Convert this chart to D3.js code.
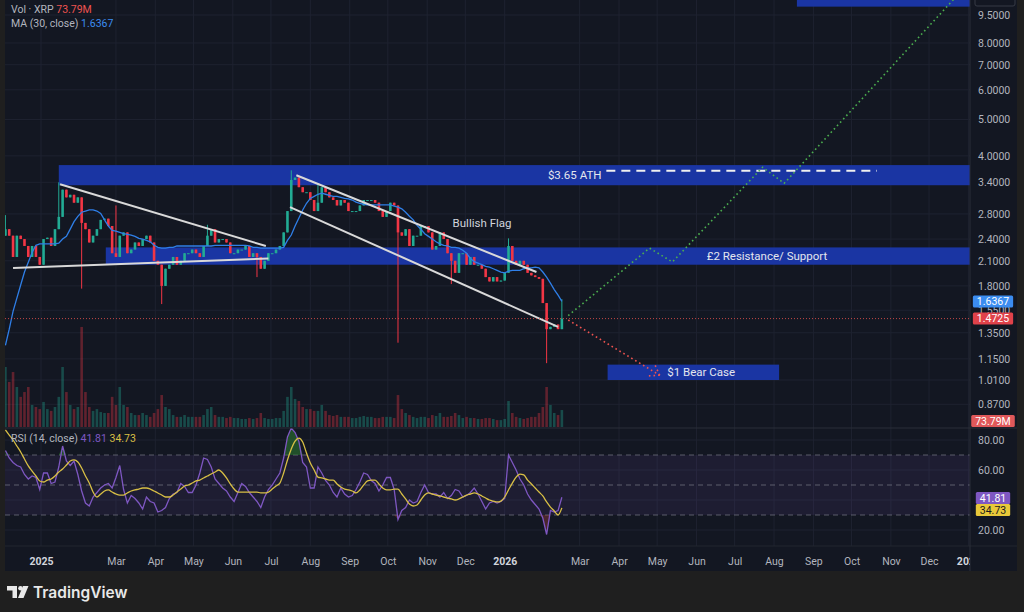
<!DOCTYPE html>
<html>
<head>
<meta charset="utf-8">
<script src="https://cdn.jsdelivr.net/npm/d3@7"></script>
<style>
  html, body { margin: 0; padding: 0; background: #1f1f1f; }
  svg { display: block; font-family: Roboto, Inter, sans-serif; }
</style>
</head>
<body>
<div id="chart"></div>
<script>
// XRP price candles, one bar per 3 days from 2024-12-04.
const candleStart = "2024-12-04";
const candleStepDays = 3;
const firstOpen = 2.45;
const closes = [
  2.55, 2.45, 2.15, 2.45, 2.40, 2.30, 2.15, 2.30, 2.15, 2.05,
  2.40, 2.42, 2.30, 2.55, 2.75, 3.25, 3.10, 3.15, 3.00, 3.10,
  2.65, 2.55, 2.35, 2.45, 2.55, 2.70, 2.72, 2.60, 2.20, 2.15,
  2.45, 2.50, 2.20, 2.25, 2.35, 2.30, 2.40, 2.45, 2.35, 2.10,
  2.05, 1.80, 2.00, 2.05, 2.15, 2.05, 2.10, 2.20, 2.20, 2.25,
  2.20, 2.15, 2.30, 2.45, 2.55, 2.35, 2.40, 2.40, 2.35, 2.20,
  2.20, 2.25, 2.25, 2.30, 2.15, 2.20, 2.15, 2.00, 2.10, 2.20,
  2.20, 2.25, 2.30, 2.50, 2.85, 3.45, 3.50, 3.30, 3.20, 3.20,
  3.05, 2.85, 3.00, 3.30, 3.20, 3.10, 3.05, 2.95, 3.05, 3.00,
  2.85, 2.85, 2.85, 2.95, 3.05, 3.05, 3.05, 3.00, 2.85, 2.75,
  2.85, 3.00, 2.95, 2.50, 2.45, 2.55, 2.30, 2.45, 2.45, 2.60,
  2.60, 2.50, 2.25, 2.30, 2.50, 2.40, 2.20, 2.10, 1.95, 2.20,
  2.20, 2.05, 2.15, 2.05, 2.05, 2.00, 1.90, 1.85, 1.90, 1.85,
  1.86, 1.95, 2.30, 2.10, 2.05, 2.10, 2.05, 1.95, 1.92, 1.90,
  1.88, 1.62, 1.38, 1.40, 1.42, 1.38, 1.4725
];
// Volume in millions, same bars.
const volumes = [
  261, 196, 239, 174, 131, 152, 174, 96, 87, 78,
  109, 78, 70, 87, 131, 261, 152, 96, 78, 87,
  435, 152, 87, 70, 78, 65, 61, 61, 131, 96,
  174, 96, 87, 61, 52, 52, 61, 52, 44, 61,
  78, 139, 87, 78, 52, 44, 44, 52, 44, 44,
  44, 44, 52, 78, 87, 52, 44, 44, 39, 44,
  39, 39, 35, 35, 39, 35, 39, 61, 39, 35,
  35, 39, 39, 70, 131, 174, 122, 113, 87, 78,
  78, 70, 70, 96, 70, 52, 48, 52, 44, 44,
  44, 39, 39, 44, 48, 44, 44, 39, 39, 44,
  44, 44, 39, 139, 78, 61, 52, 44, 39, 44,
  44, 39, 52, 48, 61, 44, 44, 48, 61, 52,
  39, 44, 39, 39, 35, 35, 39, 39, 35, 30,
  30, 35, 113, 61, 44, 39, 35, 39, 44, 44,
  61, 87, 174, 96, 61, 52, 73.79
];
// MA (30, close)
const ma30 = [
  1.25, 1.38, 1.54, 1.67, 1.81, 1.96, 2.08, 2.21, 2.31, 2.33,
  2.33, 2.33, 2.33, 2.33, 2.34, 2.40, 2.44, 2.55, 2.67, 2.76,
  2.83, 2.85, 2.87, 2.87, 2.85, 2.81, 2.70, 2.60, 2.53, 2.52,
  2.50, 2.48, 2.47, 2.46, 2.44, 2.41, 2.40, 2.38, 2.36, 2.31,
  2.28, 2.27, 2.27, 2.28, 2.28, 2.30, 2.30, 2.30, 2.30, 2.30,
  2.30, 2.30, 2.30, 2.30, 2.30, 2.31, 2.31, 2.31, 2.31, 2.31,
  2.31, 2.31, 2.31, 2.31, 2.30, 2.28, 2.28, 2.27, 2.27, 2.27,
  2.27, 2.27, 2.27, 2.28, 2.38, 2.46, 2.60, 2.73, 2.87, 2.99,
  3.08, 3.12, 3.16, 3.18, 3.16, 3.14, 3.12, 3.12, 3.10, 3.08,
  3.07, 3.05, 3.01, 2.99, 2.97, 2.96, 2.96, 2.96, 2.96, 2.96,
  2.96, 2.96, 2.94, 2.92, 2.89, 2.83, 2.76, 2.70, 2.61, 2.55,
  2.48, 2.44, 2.40, 2.36, 2.33, 2.31, 2.30, 2.28, 2.28, 2.27,
  2.24, 2.20, 2.13, 2.09, 2.07, 2.05, 2.03, 2.02, 2.00, 1.98,
  1.96, 1.95, 1.97, 1.98, 1.98, 1.98, 2.00, 2.01, 2.01, 2.02,
  2.01, 1.96, 1.90, 1.83, 1.76, 1.70, 1.6367
];
// RSI (14, close) and its moving average
const rsi = [
  73, 68, 65, 63, 62, 57, 54, 56, 55, 47,
  58, 58, 51, 52, 62, 76, 66, 63, 66, 57,
  46, 38, 36, 42, 45, 48, 50, 51, 48, 55,
  63, 47, 38, 43, 41, 38, 34, 42, 39, 38,
  32, 33, 35, 41, 44, 45, 51, 49, 45, 45,
  50, 58, 68, 67, 62, 54, 51, 48, 46, 42,
  39, 45, 51, 49, 45, 42, 39, 35, 42, 47,
  50, 54, 58, 68, 82, 88, 85, 79, 65, 62,
  48, 48, 62, 58, 53, 50, 45, 42, 48, 44,
  42, 43, 47, 52, 58, 57, 53, 51, 46, 50,
  55, 55, 47, 27, 33, 35, 40, 38, 39, 45,
  50, 45, 44, 44, 42, 45, 41, 43, 47, 46,
  42, 43, 45, 48, 44, 39, 34, 38, 39, 38,
  39, 41, 70, 65, 60, 54, 50, 44, 40, 37,
  34, 28, 17, 33, 32, 33, 41.81
];
const rsiMa = [
  86.7, 83.3, 80, 76, 72, 67.3, 62.7, 59.3, 56, 52.7,
  52, 53.3, 54, 56, 58.7, 60.7, 63.3, 66, 66.7, 65.3,
  61.3, 56, 51.3, 45.3, 42, 44, 46, 46.7, 45.3, 44,
  43.3, 43.3, 44.7, 46, 46.7, 47.3, 48, 48, 47.3, 46,
  44.7, 43.3, 42, 42, 43.3, 45.3, 47.3, 49.3, 50, 51.3,
  52.7, 53.3, 54.7, 56, 57.3, 58.7, 60, 58, 54.7, 50.7,
  47.3, 45.3, 45.3, 45.3, 45.3, 45.3, 45.3, 44.7, 44.7, 45.3,
  47.3, 49.3, 51.3, 58, 66.7, 74, 79.3, 81.3, 78.7, 71.3,
  64.7, 60, 55.3, 54.7, 54, 53.3, 53.3, 50.7, 48.7, 47.3,
  46.7, 46, 44.7, 46.7, 50, 52.7, 53.3, 53.3, 50.7, 48,
  46.7, 46.7, 47.3, 47.3, 44, 40.7, 37.3, 36, 36.7, 40,
  43.3, 44.7, 44, 43.3, 42.7, 42, 41.3, 40.7, 40, 40.7,
  42, 43.3, 44, 44.7, 44, 42.7, 41.3, 40, 39.3, 38.7,
  39.3, 42, 46.7, 51.3, 55.3, 57.3, 56.7, 53.3, 50.7, 48,
  45.3, 42.7, 38.7, 35.3, 32.7, 30, 34.73
];
// Long wicks that stand out on the chart
const wickDates = ["2024-12-04", "2025-01-16", "2025-02-03", "2025-03-02", "2025-04-07", "2025-05-12",
  "2025-06-22", "2025-07-18", "2025-08-08", "2025-10-10", "2025-11-21", "2026-01-06", "2026-02-05", "2026-02-15"];
const wickPrices = [2.78, 3.40, 1.77, 2.95, 1.61, 2.62, 1.90, 3.66, 3.35, 1.27, 1.82, 2.41, 1.12, 1.66];

// Axis ticks
const priceTicks = [9.5, 8, 7, 6, 5, 4, 3.4, 2.8, 2.4, 2.1, 1.8, 1.55, 1.35, 1.15, 1.01, 0.87];
const rsiTicks = [80, 60, 20];
const rsiGrid = [80, 60, 40, 20];
const rsiLevels = [70, 50, 30];
const timeTicks = ["2025-01-01", "2025-03-01", "2025-04-01", "2025-05-01", "2025-06-01", "2025-07-01",
  "2025-08-01", "2025-09-01", "2025-10-01", "2025-11-01", "2025-12-01", "2026-01-01", "2026-03-01",
  "2026-04-01", "2026-05-01", "2026-06-01", "2026-07-01", "2026-08-01", "2026-09-01", "2026-10-01",
  "2026-11-01", "2026-12-01", "2027-01-01"];

// Drawings: [date, price] pairs
const triangleTop = [["2025-01-16", 3.36], ["2025-06-27", 2.30]];
const triangleBottom = [["2024-12-10", 2.01], ["2025-06-29", 2.13]];
const flagTop = [["2025-07-21", 3.55], ["2026-01-26", 1.96]];
const flagBottom = [["2025-07-16", 2.92], ["2026-02-12", 1.40]];
const bullPath = [["2026-02-20", 1.50], ["2026-04-25", 2.27], ["2026-05-13", 2.085],
  ["2026-07-23", 3.73], ["2026-08-09", 3.38], ["2026-12-27", 11.06]];
const bearPath = [["2026-02-20", 1.46], ["2026-05-03", 1.04]];
const athLine = [["2026-03-22", 3.65], ["2026-10-21", 3.65]];
// Zones: label, start date, end date, low, high, label date
const zoneLabels = ["$3.65 ATH", "£2 Resistance/ Support", "$1 Bear Case", "$10 Bull Target"];
const zoneStart = ["2025-01-15", "2025-02-21", "2026-03-23", "2026-08-19"];
const zoneEnd = ["2027-03-01", "2027-03-01", "2026-08-05", "2027-03-01"];
const zoneLow = [3.34, 2.05, 1.01, 10.0];
const zoneHigh = [3.78, 2.28, 1.11, 12.6];
const zoneTextAt = ["2026-02-04", "2026-06-09", "2026-05-09", "2026-09-20"];
const flagLabel = ["Bullish Flag", "2025-11-21", 2.65];

/**
 * Layout.
 */
const width = 1024, height = 612;
const left = 5, axisX = 970, right = 1017;
const priceTop = 0, priceBottom = 428, rsiBottom = 546, chartBottom = 571;
const gridColor = "#1e2230";
const textColor = "#b2b5be";
const upColor = "#22ab94", downColor = "#f23645";

const parse = d3.utcParse("%Y-%m-%d");
const t0 = parse(candleStart);

const candles = closes.map((c, i) => {
  const open = i === 0 ? firstOpen : closes[i - 1];
  return {
    date: d3.utcDay.offset(t0, i * candleStepDays),
    open, close: c,
    high: Math.max(open, c), low: Math.min(open, c),
    vol: volumes[i], ma: ma30[i], rsi: rsi[i], rsiMa: rsiMa[i]
  };
});
wickDates.forEach((d, k) => {
  const i = Math.floor(d3.utcDay.count(t0, parse(d)) / candleStepDays);
  const c = candles[i];
  if (!c) return;
  c.high = Math.max(c.high, wickPrices[k]);
  c.low = Math.min(c.low, wickPrices[k]);
});

// Scales
const x = d3.scaleUtc()
  .domain([parse("2025-01-01"), parse("2026-01-01")])
  .range([41, 504.7]);
const y = d3.scaleLog().domain([1.01, 9.5]).range([380, 15]);
const yVol = d3.scaleLinear().domain([0, 400]).range([priceBottom - 1, 335]);
const yRsi = d3.scaleLinear().domain([20, 80]).range([530, 440]);
const slot = x(d3.utcDay.offset(t0, candleStepDays)) - x(t0);
const bodyW = slot * 0.68;

const svg = d3.select("#chart").append("svg")
  .attr("width", width).attr("height", height);

svg.append("rect").attr("width", width).attr("height", height).attr("fill", "#1f1f1f");
svg.append("rect")
  .attr("x", left).attr("y", priceTop)
  .attr("width", right - left).attr("height", chartBottom)
  .attr("fill", "#131722");

const defs = svg.append("defs");
defs.append("clipPath").attr("id", "clip-price").append("rect")
  .attr("x", left).attr("y", priceTop).attr("width", axisX - left).attr("height", priceBottom - priceTop);
defs.append("clipPath").attr("id", "clip-rsi").append("rect")
  .attr("x", left).attr("y", priceBottom).attr("width", axisX - left).attr("height", rsiBottom - priceBottom);
defs.append("clipPath").attr("id", "clip-time").append("rect")
  .attr("x", left).attr("y", rsiBottom).attr("width", axisX - left).attr("height", chartBottom - rsiBottom);

/**
 * Grid.
 */
const grid = svg.append("g");
grid.selectAll("line.v")
  .data(timeTicks.map(parse).filter((d) => x(d) < axisX))
  .join("line")
  .attr("x1", (d) => x(d)).attr("x2", (d) => x(d))
  .attr("y1", priceTop).attr("y2", rsiBottom)
  .attr("stroke", gridColor);
grid.selectAll("line.h")
  .data(priceTicks)
  .join("line")
  .attr("x1", left).attr("x2", axisX)
  .attr("y1", (d) => y(d)).attr("y2", (d) => y(d))
  .attr("stroke", gridColor);
grid.selectAll("line.r")
  .data(rsiGrid)
  .join("line")
  .attr("x1", left).attr("x2", axisX)
  .attr("y1", (d) => yRsi(d)).attr("y2", (d) => yRsi(d))
  .attr("stroke", gridColor);

/**
 * Price pane.
 */
const pane = svg.append("g").attr("clip-path", "url(#clip-price)");

// Volume
pane.append("g").selectAll("rect")
  .data(candles)
  .join("rect")
  .attr("x", (d) => x(d.date) - bodyW / 2)
  .attr("y", (d) => yVol(d.vol))
  .attr("width", bodyW)
  .attr("height", (d) => yVol(0) - yVol(d.vol))
  .attr("fill", (d) => (d.close >= d.open ? upColor : downColor))
  .attr("opacity", 0.35);

// Zones
const zones = zoneLabels.map((label, i) => ({
  label, from: parse(zoneStart[i]), to: parse(zoneEnd[i]),
  lo: zoneLow[i], hi: zoneHigh[i], at: parse(zoneTextAt[i])
}));
pane.append("g").selectAll("rect")
  .data(zones)
  .join("rect")
  .attr("x", (d) => x(d.from))
  .attr("y", (d) => y(d.hi))
  .attr("width", (d) => x(d.to) - x(d.from))
  .attr("height", (d) => y(d.lo) - y(d.hi))
  .attr("fill", "#1a35a3");

// Candles
const candleG = pane.append("g");
candleG.selectAll("line")
  .data(candles)
  .join("line")
  .attr("x1", (d) => x(d.date)).attr("x2", (d) => x(d.date))
  .attr("y1", (d) => y(d.high)).attr("y2", (d) => y(d.low))
  .attr("stroke", (d) => (d.close >= d.open ? upColor : downColor))
  .attr("stroke-width", 1);
candleG.selectAll("rect")
  .data(candles)
  .join("rect")
  .attr("x", (d) => x(d.date) - bodyW / 2)
  .attr("y", (d) => y(Math.max(d.open, d.close)))
  .attr("width", bodyW)
  .attr("height", (d) => Math.max(1, Math.abs(y(d.open) - y(d.close))))
  .attr("fill", (d) => (d.close >= d.open ? upColor : downColor));

// MA (30)
pane.append("path")
  .datum(candles)
  .attr("fill", "none")
  .attr("stroke", "#2f7fe8")
  .attr("stroke-width", 1.3)
  .attr("d", d3.line().x((d) => x(d.date)).y((d) => y(d.ma)));

// Trend lines
const pt = (p) => [x(parse(p[0])), y(p[1])];
const line = d3.line();
[triangleTop, triangleBottom, flagTop, flagBottom].forEach((seg) => {
  pane.append("path")
    .attr("d", line(seg.map(pt)))
    .attr("stroke", "#d9d9d9")
    .attr("stroke-width", 2)
    .attr("fill", "none");
});

// Last price line
const lastClose = closes[closes.length - 1];
pane.append("line")
  .attr("x1", left).attr("x2", axisX)
  .attr("y1", y(lastClose)).attr("y2", y(lastClose))
  .attr("stroke", "#ef5350").attr("stroke-width", 1)
  .attr("stroke-dasharray", "1,2").attr("opacity", 0.8);

// ATH dashed line
pane.append("path")
  .attr("d", line(athLine.map(pt)))
  .attr("stroke", "#f0f0f0").attr("stroke-width", 2)
  .attr("stroke-dasharray", "9,6").attr("fill", "none");

// Projections
pane.append("path")
  .attr("d", line(bullPath.map(pt)))
  .attr("stroke", "#4caf50").attr("stroke-width", 1.6)
  .attr("stroke-dasharray", "1.6,3").attr("fill", "none");
pane.append("path")
  .attr("d", line(bearPath.map(pt)))
  .attr("stroke", "#ef5350").attr("stroke-width", 1.6)
  .attr("stroke-dasharray", "1.6,3").attr("fill", "none");
// Arrow head of the bear path
const [bx0, by0] = pt(bearPath[0]);
const [bx1, by1] = pt(bearPath[1]);
const ang = Math.atan2(by1 - by0, bx1 - bx0);
[-0.6, 0.6].forEach((a) => {
  pane.append("line")
    .attr("x1", bx1).attr("y1", by1)
    .attr("x2", bx1 - 11 * Math.cos(ang + a)).attr("y2", by1 - 11 * Math.sin(ang + a))
    .attr("stroke", "#ef5350").attr("stroke-width", 1.6)
    .attr("stroke-dasharray", "1.6,3");
});

// Zone labels
pane.append("g").selectAll("text")
  .data(zones)
  .join("text")
  .attr("x", (d) => x(d.at))
  .attr("y", (d) => (y(d.lo) + y(d.hi)) / 2)
  .attr("dy", "0.35em")
  .attr("fill", "#e3e6ee")
  .attr("font-size", 11.5)
  .text((d) => d.label);
pane.append("text")
  .attr("x", x(parse(flagLabel[1])))
  .attr("y", y(flagLabel[2]))
  .attr("dy", "0.35em")
  .attr("fill", "#d1d4dc")
  .attr("font-size", 11.5)
  .text(flagLabel[0]);

/**
 * RSI pane.
 */
const rsiG = svg.append("g").attr("clip-path", "url(#clip-rsi)");
rsiG.append("rect")
  .attr("x", left).attr("y", yRsi(70))
  .attr("width", axisX - left).attr("height", yRsi(30) - yRsi(70))
  .attr("fill", "#7e57c2").attr("opacity", 0.1);
rsiG.selectAll("line.lvl")
  .data(rsiLevels)
  .join("line")
  .attr("x1", left).attr("x2", axisX)
  .attr("y1", (d) => yRsi(d)).attr("y2", (d) => yRsi(d))
  .attr("stroke", "#787b86").attr("stroke-dasharray", "5,4").attr("opacity", 0.7);
rsiG.append("path")
  .datum(candles)
  .attr("fill", "#2e7d32").attr("opacity", 0.55)
  .attr("d", d3.area().x((d) => x(d.date)).y0(yRsi(70)).y1((d) => yRsi(Math.max(d.rsi, 70))));
rsiG.append("path")
  .datum(candles)
  .attr("fill", "#ef5350").attr("opacity", 0.25)
  .attr("d", d3.area().x((d) => x(d.date)).y0(yRsi(30)).y1((d) => yRsi(Math.min(d.rsi, 30))));
rsiG.append("path")
  .datum(candles)
  .attr("fill", "none").attr("stroke", "#7e57c2").attr("stroke-width", 1.3)
  .attr("d", d3.line().x((d) => x(d.date)).y((d) => yRsi(d.rsi)));
rsiG.append("path")
  .datum(candles)
  .attr("fill", "none").attr("stroke", "#d8bf45").attr("stroke-width", 1.3)
  .attr("d", d3.line().curve(d3.curveMonotoneX).x((d) => x(d.date)).y((d) => yRsi(d.rsiMa)));

/**
 * Frames and axes.
 */
svg.append("line")
  .attr("x1", left).attr("x2", right).attr("y1", priceBottom).attr("y2", priceBottom)
  .attr("stroke", "#2a2e39");
svg.append("line")
  .attr("x1", left).attr("x2", right).attr("y1", rsiBottom).attr("y2", rsiBottom)
  .attr("stroke", "#22262f");
svg.append("line")
  .attr("x1", axisX).attr("x2", axisX).attr("y1", 0).attr("y2", chartBottom)
  .attr("stroke", "#2a2e39");

const styleAxis = (g) => {
  g.select(".domain").remove();
  g.selectAll("text").attr("fill", textColor).attr("font-size", 10.5).attr("font-family", "Roboto, Inter, sans-serif");
};

svg.append("g")
  .attr("transform", `translate(${axisX},0)`)
  .call(d3.axisRight(y).tickValues(priceTicks).tickSize(0).tickPadding(8).tickFormat(d3.format(".4f")))
  .call(styleAxis);
svg.append("g")
  .attr("transform", `translate(${axisX},0)`)
  .call(d3.axisRight(yRsi).tickValues(rsiTicks).tickSize(0).tickPadding(8).tickFormat(d3.format(".2f")))
  .call(styleAxis);

const monthFmt = d3.utcFormat("%b");
svg.append("g")
  .attr("clip-path", "url(#clip-time)")
  .append("g")
  .attr("transform", `translate(0,${rsiBottom})`)
  .call(d3.axisBottom(x).tickValues(timeTicks.map(parse)).tickSize(0).tickPadding(12)
    .tickFormat((d) => (d.getUTCMonth() === 0 ? d.getUTCFullYear() : monthFmt(d))))
  .call(styleAxis)
  .selectAll("text")
  .attr("font-weight", (d) => (d.getUTCMonth() === 0 ? "bold" : "normal"))
  .attr("fill", (d) => (d.getUTCMonth() === 0 ? "#d1d4dc" : textColor));

// Value tags on the price scale
function tag(yPos, text, bg, fg) {
  const g = svg.append("g");
  const t = g.append("text")
    .attr("x", 993).attr("y", yPos).attr("dy", "0.35em")
    .attr("text-anchor", "middle").attr("fill", fg).attr("font-size", 10.5)
    .text(text);
  const w = t.node().getComputedTextLength() + 8;
  g.insert("rect", "text")
    .attr("x", 993 - w / 2).attr("y", yPos - 6).attr("width", w).attr("height", 12)
    .attr("rx", 1.5).attr("fill", bg);
}
tag(y(ma30[ma30.length - 1]), "1.6367", "#3b8cf0", "#ffffff");
tag(y(lastClose), "1.4725", "#e0424a", "#ffffff");
tag(421, "73.79M", "#e0585a", "#ffffff");
tag(498, "41.81", "#7e57c2", "#ffffff");
tag(510, "34.73", "#e8c83a", "#1a1a1a");
svg.append("rect")
  .attr("x", 975).attr("y", -8).attr("width", 40).attr("height", 14).attr("rx", 2)
  .attr("fill", "#131722").attr("stroke", "#363a45");

/**
 * Legends.
 */
function legend(yPos, parts) {
  const t = svg.append("text").attr("x", 11).attr("y", yPos).attr("font-size", 10.5).attr("dy", "0.35em");
  parts.forEach(([s, c]) => t.append("tspan").attr("fill", c).text(s));
}
legend(9, [["Vol · XRP ", textColor], [" 73.79M", "#ef5350"]]);
legend(23, [["MA (30, close) ", textColor], [" 1.6367", "#3b8cf0"]]);
legend(438, [["RSI (14, close) ", textColor], [" 41.81", "#7e57c2"], ["  34.73", "#d8bf45"]]);

/**
 * TradingView logo.
 */
const logo = svg.append("g").attr("fill", "#e8e8e8");
logo.append("path").attr("d", "M7 586 h10 v12 h-4.5 v-7.5 h-5.5 z");
logo.append("circle").attr("cx", 20.5).attr("cy", 588.3).attr("r", 2.3);
logo.append("path").attr("d", "M23 586 h5.5 l-5 12 h-5.5 z");
logo.append("text")
  .attr("x", 33).attr("y", 597.5)
  .attr("font-size", 15.5).attr("font-weight", 600)
  .attr("font-family", "Inter, Roboto, sans-serif")
  .text("TradingView");
</script>
</body>
</html>
